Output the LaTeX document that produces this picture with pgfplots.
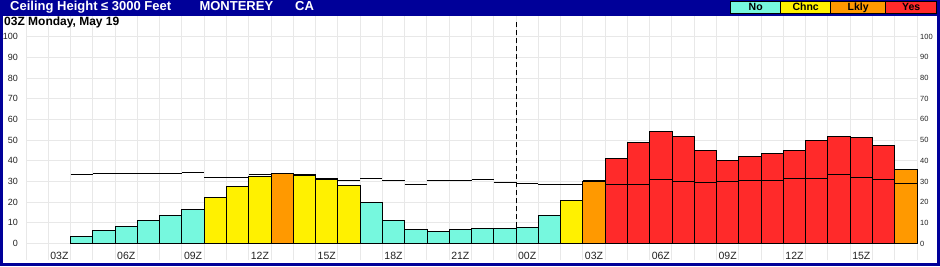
\documentclass[border=0pt]{standalone}
\usepackage{fontspec}
\setmainfont{Liberation Sans}
\usepackage{pgfplots}
\pgfplotsset{compat=1.18}
\definecolor{frameblue}{HTML}{000099}
\definecolor{cNo}{HTML}{76F8DE}
\definecolor{cChnc}{HTML}{FFF100}
\definecolor{cLkly}{HTML}{FF9900}
\definecolor{cYes}{HTML}{FF2A2A}
\definecolor{gridgray}{HTML}{E8E8E8}
\definecolor{ticktext}{HTML}{222222}
\begin{document}
\begin{tikzpicture}[x=1pt,y=1pt]
\fill[frameblue] (0,0) rectangle (940,266);
\fill[white] (3,3) rectangle (937,250);
\begin{axis}[at={(26pt,6pt)}, anchor=south west, scale only axis,
  width=891pt, height=244pt,
  xmin=0, xmax=40, ymin=-8, ymax=110,
  axis line style={draw=none},
  major tick length=0pt,
  grid=major, major grid style={draw=gridgray, line width=1pt},
  xtick={0,1,...,40}, xticklabels={},
  extra x ticks={1.5,4.5,7.5,10.5,13.5,16.5,19.5,22.5,25.5,28.5,31.5,34.5,37.5},
  extra x tick labels={03Z,06Z,09Z,12Z,15Z,18Z,21Z,00Z,03Z,06Z,09Z,12Z,15Z},
  extra x tick style={grid=none, xticklabel style={anchor=center, yshift=4pt, font=\fontsize{10.5}{10.5}\selectfont, text=ticktext}},
  ytick={0,10,...,100},
  yticklabel style={anchor=east, inner sep=0pt, xshift=-8pt, font=\fontsize{9}{9}\selectfont, text=ticktext},
  /pgf/number format/assume math mode=true,
  clip=false,
]
\addplot[ybar, bar width=1, bar shift=0pt, fill=cNo, draw=black, line width=0.9pt] coordinates {
(2.5,3.2) (3.5,6.5) (4.5,8.2) (5.5,11.3) (6.5,13.5) (7.5,16.5)
(15.5,19.8) (16.5,11.1) (17.5,6.8) (18.5,5.8) (19.5,6.8) (20.5,7.3) (21.5,7.3) (22.5,7.7) (23.5,13.5)};
\addplot[ybar, bar width=1, bar shift=0pt, fill=cChnc, draw=black, line width=0.9pt] coordinates {
(8.5,22.3) (9.5,27.6) (10.5,32.3) (12.5,32.7) (13.5,31.1) (14.5,28.0) (24.5,20.8)};
\addplot[ybar, bar width=1, bar shift=0pt, fill=cLkly, draw=black, line width=0.9pt] coordinates {
(11.5,33.9) (25.5,30.2) (39.5,35.8)};
\addplot[ybar, bar width=1, bar shift=0pt, fill=cYes, draw=black, line width=0.9pt] coordinates {
(26.5,41.1) (27.5,48.9) (28.5,54.2) (29.5,51.8) (30.5,45.0) (31.5,40.2) (32.5,42.1)
(33.5,43.5) (34.5,45.0) (35.5,49.8) (36.5,51.8) (37.5,51.3) (38.5,47.4)};
\addplot[black, line width=1pt, jump mark left, mark=none] coordinates {
(2,33.4) (3,33.9) (4,33.9) (5,33.9) (6,33.9) (7,34.3) (8,32.1) (9,32.1) (10,33.2)
(11,34.0) (12,33.2) (13,31.6) (14,30.5) (15,31.5) (16,30.5) (17,28.7) (18,30.5)
(19,30.5) (20,31.0) (21,29.5) (22,29.0) (23,28.7) (24,28.7) (25,30.5) (26,28.5)
(27,28.5) (28,31.0) (29,30.0) (30,29.5) (31,30.0) (32,30.5) (33,30.5) (34,31.5)
(35,31.5) (36,33.5) (37,31.9) (38,31.0) (39,29.0) (40,29.0)};
\addplot[black, line width=0.9pt, dash pattern=on 5pt off 3pt, mark=none] coordinates {(22,0) (22,107)};
\end{axis}
\begin{axis}[at={(26pt,6pt)}, anchor=south west, scale only axis,
  width=891pt, height=244pt,
  xmin=0, xmax=40, ymin=-8, ymax=110,
  axis line style={draw=none}, major tick length=0pt,
  xtick=\empty,
  ytick={0,10,...,100}, yticklabel pos=right,
  yticklabel style={anchor=west, inner sep=0pt, xshift=3pt, font=\fontsize{7.5}{7.5}\selectfont, text=ticktext},
  /pgf/number format/assume math mode=true,
]
\addplot[draw=none] coordinates {(0,0)};
\end{axis}
% title bar
\node[anchor=base west, text=white, font=\bfseries\fontsize{13}{13}\selectfont, inner sep=0pt] at (10,255.3) {Ceiling Height ≤ 3000 Feet};
\node[anchor=base west, text=white, font=\bfseries\fontsize{13}{13}\selectfont, inner sep=0pt] at (199.3,255.3) {MONTEREY};
\node[anchor=base west, text=white, font=\bfseries\fontsize{13}{13}\selectfont, inner sep=0pt] at (295,255.3) {CA};
% legend
\filldraw[fill=cNo, draw=black, line width=0.8pt] (730.7,252.7) rectangle (780.7,264.3);
\filldraw[fill=cChnc, draw=black, line width=0.8pt] (780.7,252.7) rectangle (830.7,264.3);
\filldraw[fill=cLkly, draw=black, line width=0.8pt] (830.7,252.7) rectangle (885.7,264.3);
\filldraw[fill=cYes, draw=black, line width=0.8pt] (885.7,252.7) rectangle (936.7,264.3);
\node[anchor=base, font=\bfseries\fontsize{10.5}{10.5}\selectfont, inner sep=0pt] at (755.7,255.3) {No};
\node[anchor=base, font=\bfseries\fontsize{10.5}{10.5}\selectfont, inner sep=0pt] at (805.7,255.3) {Chnc};
\node[anchor=base, font=\bfseries\fontsize{10.5}{10.5}\selectfont, inner sep=0pt] at (858.2,255.3) {Lkly};
\node[anchor=base, font=\bfseries\fontsize{10.5}{10.5}\selectfont, inner sep=0pt] at (911.2,255.3) {Yes};
% subtitle
\node[anchor=base west, font=\bfseries\fontsize{12}{12}\selectfont, inner sep=0pt] at (4,241) {03Z Monday, May 19};
\pgfresetboundingbox
\useasboundingbox (0,0) rectangle (940,266);
\end{tikzpicture}
\end{document}
